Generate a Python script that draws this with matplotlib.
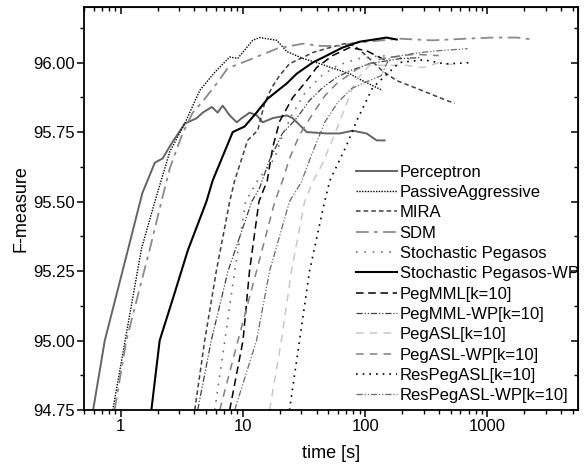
import matplotlib
matplotlib.use("Agg")
import matplotlib.pyplot as plt
from matplotlib.ticker import FixedLocator, LogLocator, FuncFormatter, NullFormatter

plt.rcParams['font.family'] = ['Liberation Sans', 'DejaVu Sans']

# (time in s, F-measure)
perc_t = [0.594, 0.74, 1.15, 1.50, 1.90, 2.20, 2.61, 3.33, 4.18, 4.68, 5.55, 6.21, 6.82, 7.78,
          8.88, 9.76, 11.35, 12.94, 14.49, 17.5, 22.8, 25.5, 33.2, 48.3, 61.7, 78.9, 102.6, 123.9, 144]
perc_f = [94.75, 95.00, 95.33, 95.53, 95.64, 95.655, 95.71, 95.78, 95.80, 95.82, 95.84, 95.82, 95.845, 95.81,
          95.785, 95.80, 95.82, 95.81, 95.785, 95.80, 95.81, 95.80, 95.75, 95.745, 95.745, 95.755, 95.745, 95.72, 95.72]

pa_t = [0.86, 1.477, 1.90, 2.52, 3.33, 4.43, 5.87, 7.78, 9.05, 12.0, 13.7, 18.9, 22.8, 30.8, 40.0, 54.2, 74.5, 90, 138]
pa_f = [94.75, 95.33, 95.50, 95.68, 95.78, 95.90, 95.965, 96.02, 96.015, 96.08, 96.09, 96.08, 96.04, 96.015,
        96.0, 95.98, 95.96, 95.94, 95.90]

mira_t = [4.03, 4.86, 6.05, 7.78, 8.55, 10.9, 13.2, 15.0, 17.2, 19.9, 24, 30.8, 37.1, 51.4, 68, 82, 102, 138,
          181, 264, 405, 538]
mira_f = [94.75, 95.00, 95.25, 95.50, 95.576, 95.72, 95.756, 95.853, 95.91, 95.953, 95.996, 96.018, 96.036,
          96.054, 96.068, 96.06, 96.025, 95.97, 95.935, 95.907, 95.874, 95.853]

sdm_t = [0.89, 1.11, 1.73, 2.15, 2.52, 3.2, 3.88, 4.68, 6.1, 7.5, 9.4, 13.7, 18.9, 30.8, 42.4, 61.7, 78.9,
         191, 355, 674, 1100, 1737, 2339]
sdm_f = [94.75, 95.00, 95.33, 95.50, 95.62, 95.745, 95.82, 95.86, 95.925, 95.98, 95.996, 96.025, 96.05,
         96.068, 96.06, 96.06, 96.07, 96.086, 96.08, 96.086, 96.09, 96.09, 96.083]

sp_t = [5.87, 7.1, 8.55, 10.5, 13.2, 18.1, 21.1, 25, 32, 44, 59.5, 86.8, 135, 230]
sp_f = [94.75, 95.00, 95.25, 95.50, 95.576, 95.655, 95.74, 95.81, 95.89, 95.953, 95.99, 96.014, 96.025, 96.014]

spwp_t = [1.78, 2.08, 2.71, 3.54, 5.02, 5.65, 8.24, 10.3, 12.9, 15.9, 22.8, 27.5, 37.1, 48.3, 65.1,
          89.9, 131, 149, 181]
spwp_f = [94.75, 95.00, 95.16, 95.325, 95.50, 95.576, 95.75, 95.77, 95.82, 95.87, 95.925, 95.96, 96.00,
          96.025, 96.054, 96.075, 96.086, 96.09, 96.083]

pmml_t = [7.78, 10.0, 11.3, 13.5, 15.8, 17.5, 20, 25.5, 33.2, 40, 54, 74.5, 102, 138, 158]
pmml_f = [94.75, 95.00, 95.25, 95.50, 95.576, 95.695, 95.79, 95.874, 95.935, 95.982, 96.025, 96.054,
          96.043, 96.014, 96.007]

pmmlwp_t = [4.26, 5.5, 7.54, 11.8, 13.7, 16.5, 21, 27.5, 35, 44.9, 58, 74.5, 108, 191, 279]
pmmlwp_f = [94.75, 95.00, 95.25, 95.50, 95.55, 95.65, 95.745, 95.80, 95.864, 95.91, 95.946, 95.97,
            95.996, 96.014, 96.018]

pasl_t = [16.5, 20.6, 24.9, 31.9, 37.1, 44, 56, 71.5, 82, 108, 218, 295, 405, 560]
pasl_f = [94.75, 95.00, 95.25, 95.50, 95.57, 95.63, 95.74, 95.86, 95.93, 95.99, 95.99, 95.982, 96.0, 95.99]

paslwp_t = [6.45, 9.1, 12.9, 18.2, 21.1, 24, 29, 36.5, 46.6, 59.5, 86.8, 135, 250, 400]
paslwp_f = [94.75, 95.00, 95.25, 95.50, 95.576, 95.655, 95.74, 95.81, 95.88, 95.928, 95.978, 96.014,
            96.03, 96.025]

rpasl_t = [24.0, 29.0, 35.0, 46.5, 51.4, 70, 85, 115, 152, 190, 300, 450, 740]
rpasl_f = [94.75, 95.00, 95.25, 95.50, 95.576, 95.70, 95.79, 95.91, 95.96, 96.0, 96.01, 95.995, 96.0]

rpaslwp_t = [8.55, 12.9, 16.5, 24, 30, 36.5, 46.6, 59.5, 77.5, 98.6, 135, 158, 279, 405, 687]
rpaslwp_f = [94.75, 95.00, 95.25, 95.50, 95.57, 95.67, 95.785, 95.856, 95.907, 95.928, 95.953, 96.018,
             96.036, 96.043, 96.05]

yticks = [94.75, 95.0, 95.25, 95.5, 95.75, 96.0]
yminor = [94.875, 95.125, 95.375, 95.625, 95.875, 96.125]

fig = plt.figure(figsize=(5.84, 4.66), dpi=100)
ax = fig.add_axes([0.1438, 0.1202, 0.8459, 0.8648])

ax.plot(perc_t, perc_f, color='#646464', lw=1.4, label='Perceptron')
ax.plot(pa_t, pa_f, color='black', lw=1.0, linestyle=(0, (1, 1)), label='PassiveAggressive')
ax.plot(mira_t, mira_f, color='#404040', lw=1.1, linestyle=(0, (3, 2)), label='MIRA')
ax.plot(sdm_t, sdm_f, color='#8a8a8a', lw=1.3, linestyle=(0, (7, 3, 2, 3)), label='SDM')
ax.plot(sp_t, sp_f, color='#707070', lw=1.2, linestyle=(0, (1, 4)), label='Stochastic Pegasos')
ax.plot(spwp_t, spwp_f, color='black', lw=1.5, label='Stochastic Pegasos-WP')
ax.plot(pmml_t, pmml_f, color='black', lw=1.1, linestyle=(0, (5, 3)), label='PegMML[k=10]')
ax.plot(pmmlwp_t, pmmlwp_f, color='#404040', lw=0.9, linestyle=(0, (5, 1.5, 1, 1.5, 1, 1.5)),
        label='PegMML-WP[k=10]')
ax.plot(pasl_t, pasl_f, color='#c8c8c8', lw=1.1, linestyle=(0, (5, 4)), label='PegASL[k=10]')
ax.plot(paslwp_t, paslwp_f, color='#808080', lw=1.1, linestyle=(0, (5, 4)), label='PegASL-WP[k=10]')
ax.plot(rpasl_t, rpasl_f, color='black', lw=1.2, linestyle=(0, (1, 3)), label='ResPegASL[k=10]')
ax.plot(rpaslwp_t, rpaslwp_f, color='#6a6a6a', lw=0.9, linestyle=(0, (5, 1.5, 1, 1.5, 1, 1.5)),
        label='ResPegASL-WP[k=10]')

ax.set_xscale('log')
ax.set_xlim(0.5, 5500)
ax.set_ylim(94.75, 96.2)

ax.yaxis.set_major_locator(FixedLocator(yticks))
ax.yaxis.set_minor_locator(FixedLocator(yminor))
ax.yaxis.set_major_formatter(FuncFormatter(lambda v, p: '%.2f' % v))
ax.xaxis.set_major_locator(LogLocator(base=10))
ax.xaxis.set_minor_locator(LogLocator(base=10, subs=range(2, 10)))
ax.xaxis.set_major_formatter(FuncFormatter(lambda v, p: '%g' % v))
ax.xaxis.set_minor_formatter(NullFormatter())

for s in ax.spines.values():
    s.set_linewidth(1.3)
ax.tick_params(axis='both', which='major', direction='out', length=5, width=1.1, labelsize=12,
               top=False, right=False, pad=1.5)
ax.tick_params(axis='both', which='minor', direction='out', length=3, width=1.0, top=False, right=False)

# inward ticks on top and right
ax2 = ax.secondary_xaxis('top')
ax2.xaxis.set_major_locator(LogLocator(base=10))
ax2.xaxis.set_minor_locator(LogLocator(base=10, subs=range(2, 10)))
ax2.tick_params(which='both', direction='in', labeltop=False)
ax2.tick_params(which='major', length=5, width=1.1)
ax2.tick_params(which='minor', length=3, width=1.0)
ax2.xaxis.set_major_formatter(NullFormatter())
ax2.xaxis.set_minor_formatter(NullFormatter())
ax3 = ax.secondary_yaxis('right')
ax3.yaxis.set_major_locator(FixedLocator(yticks))
ax3.yaxis.set_minor_locator(FixedLocator(yminor))
ax3.tick_params(which='major', direction='in', length=5, width=1.1, labelright=False)
ax3.tick_params(which='minor', direction='in', length=3, width=1.0)
ax3.yaxis.set_major_formatter(NullFormatter())

ax.set_xlabel('time [s]', fontsize=13, labelpad=8)
ax.set_ylabel('F-measure', fontsize=13, labelpad=3)

ax.legend(loc='lower left', bbox_to_anchor=(0.538, 0.0), frameon=False, fontsize=12,
          handlelength=2.45, handletextpad=0.15, labelspacing=0.32, borderaxespad=0.0)

fig.savefig('out.png', dpi=100)
